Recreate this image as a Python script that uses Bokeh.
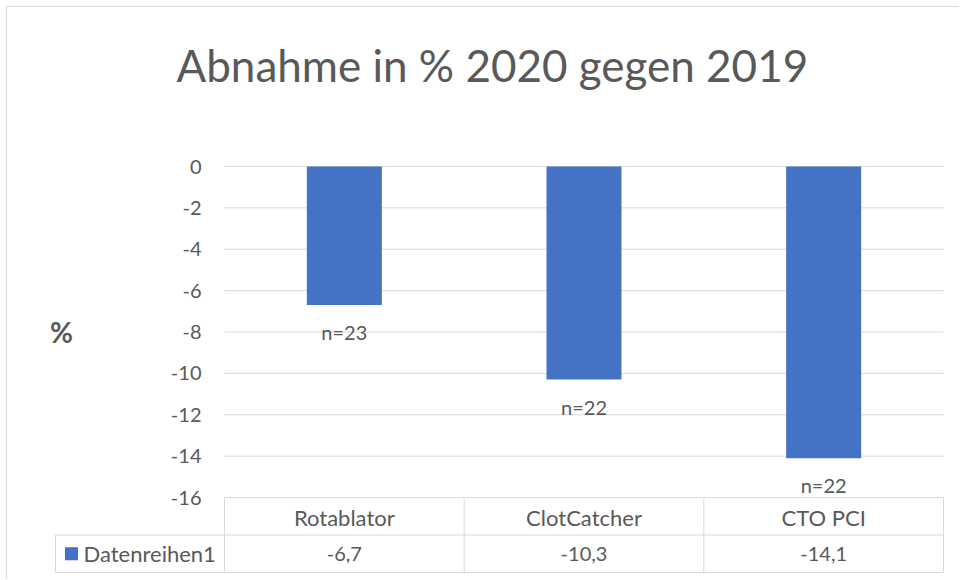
from bokeh.plotting import figure
from bokeh.models import Range1d, FixedTicker
from bokeh.embed import file_html
from bokeh.resources import INLINE
from bokeh.core.properties import value

# ---------------- data ----------------
categories = ["Rotablator", "ClotCatcher", "CTO PCI"]
values = [-6.7, -10.3, -14.1]
n_counts = [23, 22, 22]
series_name = "Datenreihen1"
y_ticks = [0, -2, -4, -6, -8, -10, -12, -14, -16]
y_tick_labels = ["0", "-2", "-4", "-6", "-8", "-10", "-12", "-14", "-16"]
title_text = "Abnahme in % 2020 gegen 2019"
y_label = "%"

# ---------------- layout (pixels) ----------------
ORG = 7              # page position of the figure's top-left corner
W, H = 953, 573
TOP = 100            # title panel height
PX_CAT0 = 224 - ORG  # left edge of first category
PX_CAT_W = 239.67    # width of one category
PX_Y0 = 166 - ORG    # y=0 line, from top of figure
PX_UNIT = 20.6875    # pixels per y unit
ROW_PX = 37.5        # table row height
LEG_LEFT_PX = 55 - ORG

FONT = "Lato"
TXT = "#595959"
GRID = "#d9d9d9"
BAR = "#4472C4"

x_start = (0 - PX_CAT0) / PX_CAT_W
x_end = (W - PX_CAT0) / PX_CAT_W
y_end = (PX_Y0 - TOP) / PX_UNIT
y_start = -(H - PX_Y0) / PX_UNIT

ncat = len(categories)
xs = [i + 0.5 for i in range(ncat)]
y_min = min(y_ticks)
rh = ROW_PX / PX_UNIT
row1_bot = y_min - rh
row2_bot = y_min - 2 * rh
x_leg = (LEG_LEFT_PX - PX_CAT0) / PX_CAT_W

p = figure(width=W, height=H, x_range=Range1d(x_start, x_end),
           y_range=Range1d(y_start, y_end), toolbar_location=None,
           output_backend="svg", min_border_left=0, min_border_right=0,
           min_border_bottom=0, min_border_top=TOP, title=title_text)
p.outline_line_color = None
p.xgrid.visible = False
p.ygrid.visible = False
p.background_fill_color = "white"
p.border_fill_color = "white"
p.styles = {"margin-left": f"{ORG - 1}px", "margin-top": f"{ORG - 1}px",
            "border-left": "1px solid #d9d9d9", "border-top": "1px solid #d9d9d9"}

p.title.text_font = FONT
p.title.text_font_size = "44px"
p.title.text_font_style = "normal"
p.title.text_color = TXT
p.title.align = "left"
p.title.vertical_align = "middle"
p.title.offset = 169
p.title.standoff = 32

# gridlines
p.segment(x0=[0] * len(y_ticks), x1=[ncat] * len(y_ticks), y0=y_ticks, y1=y_ticks,
          line_color=GRID, line_width=1)

# bars
p.vbar(x=xs, width=0.313, top=0, bottom=values, fill_color=BAR, line_color=None)

# n labels
p.text(x=xs, y=values, text=[f"n={n}" for n in n_counts], text_font=value(FONT),
       text_font_size="20px", text_color=TXT, text_align="center",
       text_baseline="middle", y_offset=27)

# y axis
ya = p.yaxis[0]
ya.ticker = FixedTicker(ticks=y_ticks)
ya.major_label_overrides = {t: s for t, s in zip(y_ticks, y_tick_labels)}
ya.fixed_location = -7 / PX_CAT_W
ya.bounds = (min(y_ticks), max(y_ticks))
ya.axis_line_color = None
ya.major_tick_line_color = None
ya.minor_tick_line_color = None
ya.major_label_standoff = 10
ya.major_label_text_font = FONT
ya.major_label_text_font_size = "20px"
ya.major_label_text_color = TXT
ya.axis_label = y_label
ya.axis_label_text_font = FONT
ya.axis_label_text_font_size = "28px"
ya.axis_label_text_font_style = "bold"
ya.axis_label_text_color = TXT
ya.axis_label_standoff = 95
if "axis_label_orientation" in type(ya).properties():
    ya.axis_label_orientation = "horizontal"

# x axis (category row of the data table)
xa = p.xaxis[0]
xa.ticker = FixedTicker(ticks=xs)
xa.major_label_overrides = {x: c for x, c in zip(xs, categories)}
xa.fixed_location = y_min
xa.axis_line_color = None
xa.major_tick_line_color = None
xa.minor_tick_line_color = None
xa.major_label_standoff = 0
xa.major_label_text_font = FONT
xa.major_label_text_font_size = "22px"
xa.major_label_text_color = TXT

# data table lines
hx0 = [x_leg, x_leg]
hx1 = [ncat, ncat]
hy = [row1_bot, row2_bot]
p.segment(x0=hx0, x1=hx1, y0=hy, y1=hy, line_color=GRID, line_width=1)
vx = list(range(ncat + 1))
p.segment(x0=vx, x1=vx, y0=[y_min] * len(vx), y1=[row2_bot] * len(vx),
          line_color=GRID, line_width=1)
p.segment(x0=[x_leg], x1=[x_leg], y0=[row1_bot], y1=[row2_bot],
          line_color=GRID, line_width=1)

# data table values row
row2_mid = y_min - 1.5 * rh
p.text(x=xs, y=[row2_mid] * ncat,
       text=[f"{v:.1f}".replace(".", ",") for v in values],
       text_font=value(FONT), text_font_size="20px", text_color=TXT,
       text_align="center", text_baseline="middle")
# legend key
p.scatter(x=[x_leg + 16 / PX_CAT_W], y=[row2_mid], marker="square", size=13,
          fill_color=BAR, line_color=None)
p.text(x=[x_leg + 28 / PX_CAT_W], y=[row2_mid], text=[series_name],
       text_font=value(FONT), text_font_size="22px", text_color=TXT,
       text_align="left", text_baseline="middle")

open("out.html", "w").write(file_html(p, INLINE))
